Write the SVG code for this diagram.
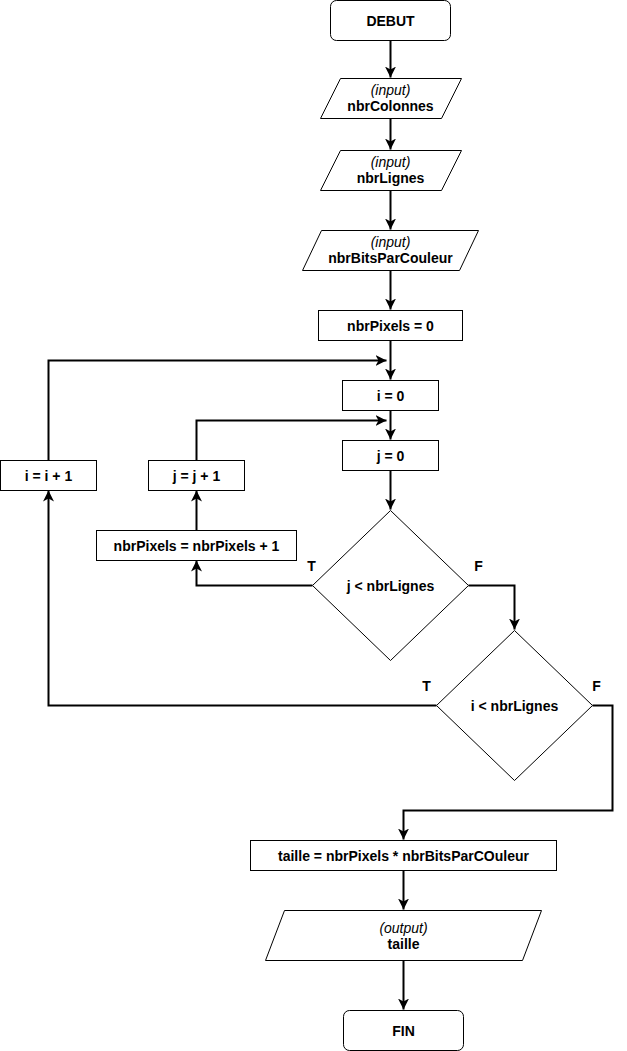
<svg xmlns="http://www.w3.org/2000/svg" width="627" height="1051" viewBox="0 0 627 1051">
<style>
.shape{fill:#fff;stroke:#000;stroke-width:1}
.conn{fill:none;stroke:#000;stroke-width:2;marker-end:url(#arr)}
.t{font-family:"Liberation Sans",Arial,Helvetica,sans-serif;font-size:14px;font-weight:bold;text-anchor:middle;fill:#000}
.it{font-family:"Liberation Sans",Arial,Helvetica,sans-serif;font-size:14px;font-style:italic;text-anchor:middle;fill:#000}
</style>
<defs>
<marker id="arr" markerUnits="userSpaceOnUse" markerWidth="12" markerHeight="12" viewBox="0 0 12 12" refX="11" refY="6" orient="auto">
<path d="M0,0.5 L11,6 L0,11.5 L3,6 z" fill="#000"/>
</marker>
</defs>
<rect width="627" height="1051" fill="#fff"/>
<g id="connectors">
<path class="conn" d="M390.5,40.5 V77.5"/>
<path class="conn" d="M390.5,118.5 V149.5"/>
<path class="conn" d="M390.5,190.5 V229.5"/>
<path class="conn" d="M390.5,270.5 V309.5"/>
<path class="conn" d="M390.5,340.5 V379.5"/>
<path class="conn" d="M390.5,410.5 V439.5"/>
<path class="conn" d="M390.5,470.5 V509.5"/>
<path class="conn" d="M312.5,585.5 H196.5 V560.5"/>
<path class="conn" d="M196.5,530.5 V490.5"/>
<path class="conn" d="M196.5,460.5 V420.5 H386.5"/>
<path class="conn" d="M468.5,585.5 H514.5 V629.5"/>
<path class="conn" d="M436.5,705.5 H48.5 V490.5"/>
<path class="conn" d="M48.5,460.5 V360.5 H386.5"/>
<path class="conn" d="M592.5,705.5 H612.5 V810.5 H403.5 V839.5"/>
<path class="conn" d="M403.5,870.5 V909.5"/>
<path class="conn" d="M403.5,960.5 V1009.5"/>
</g>
<g id="debut">
<rect class="shape" x="330.5" y="0.5" width="120" height="40" rx="6"/>
<text class="t" x="390.5" y="25.5">DEBUT</text>
</g>
<g id="input-nbrColonnes">
<polygon class="shape" points="340.5,78.5 461.5,78.5 441.5,118.5 320.5,118.5"/>
<text class="it" x="390.5" y="94.5">(input)</text>
<text class="t" x="390.5" y="111">nbrColonnes</text>
</g>
<g id="input-nbrLignes">
<polygon class="shape" points="340.5,150.5 461.5,150.5 441.5,190.5 320.5,190.5"/>
<text class="it" x="390.5" y="166.5">(input)</text>
<text class="t" x="390.5" y="183">nbrLignes</text>
</g>
<g id="input-nbrBitsParCouleur">
<polygon class="shape" points="321.5,230.5 478.5,230.5 459.5,270.5 302.5,270.5"/>
<text class="it" x="390.5" y="246.5">(input)</text>
<text class="t" x="390.5" y="263">nbrBitsParCouleur</text>
</g>
<g id="nbrPixels-init">
<rect class="shape" x="318.5" y="310.5" width="144" height="30"/>
<text class="t" x="390.5" y="330.5">nbrPixels = 0</text>
</g>
<g id="i-init">
<rect class="shape" x="342.5" y="380.5" width="96" height="30"/>
<text class="t" x="390.5" y="400.5">i = 0</text>
</g>
<g id="j-init">
<rect class="shape" x="342.5" y="440.5" width="96" height="30"/>
<text class="t" x="390.5" y="460.5">j = 0</text>
</g>
<g id="cond-j">
<polygon class="shape" points="390.5,510.5 468.5,585.5 390.5,660.5 312.5,585.5"/>
<text class="t" x="390.5" y="590.5">j &lt; nbrLignes</text>
<text class="t" x="311.5" y="571">T</text>
<text class="t" x="478.5" y="571">F</text>
</g>
<g id="nbrPixels-inc">
<rect class="shape" x="96.5" y="530.5" width="200" height="30"/>
<text class="t" x="196.5" y="550.5">nbrPixels = nbrPixels + 1</text>
</g>
<g id="j-inc">
<rect class="shape" x="148.5" y="460.5" width="96" height="30"/>
<text class="t" x="196.5" y="480.5">j = j + 1</text>
</g>
<g id="cond-i">
<polygon class="shape" points="514.5,630.5 592.5,705.5 514.5,780.5 436.5,705.5"/>
<text class="t" x="514.5" y="710.5">i &lt; nbrLignes</text>
<text class="t" x="426.5" y="691">T</text>
<text class="t" x="596.5" y="691">F</text>
</g>
<g id="i-inc">
<rect class="shape" x="0.5" y="460.5" width="96" height="30"/>
<text class="t" x="48.5" y="480.5">i = i + 1</text>
</g>
<g id="taille-calc">
<rect class="shape" x="250.5" y="840.5" width="306" height="30"/>
<text class="t" x="403.5" y="860.5">taille = nbrPixels * nbrBitsParCOuleur</text>
</g>
<g id="output-taille">
<polygon class="shape" points="284.5,910.5 541.5,910.5 522.5,960.5 265.5,960.5"/>
<text class="it" x="403.5" y="932.5">(output)</text>
<text class="t" x="403.5" y="949">taille</text>
</g>
<g id="fin">
<rect class="shape" x="343.5" y="1010.5" width="120" height="40" rx="6"/>
<text class="t" x="403.5" y="1035.5">FIN</text>
</g>
</svg>
